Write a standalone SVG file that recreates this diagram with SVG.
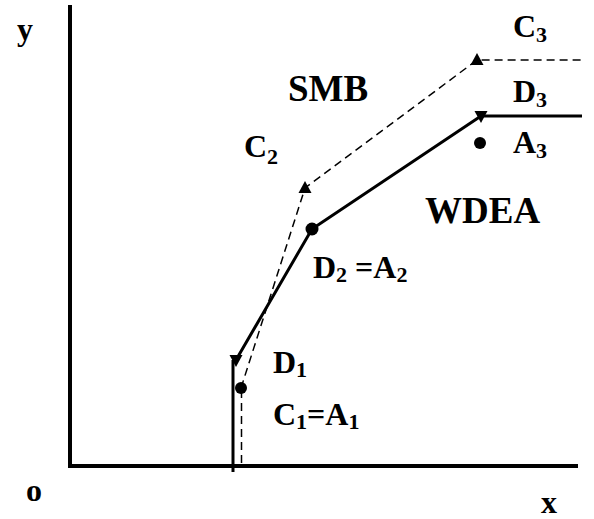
<svg xmlns="http://www.w3.org/2000/svg" width="594" height="519" viewBox="0 0 594 519">
<style>
text{font-family:"Liberation Serif","Times New Roman",serif;font-weight:bold;fill:#000}
.lbl{font-size:32px}
.big{font-size:37px}
.sub{font-size:22px}
.solid{fill:none;stroke:#000;stroke-width:3}
.dash{fill:none;stroke:#000;stroke-width:1.5;stroke-dasharray:8 5}
</style>
<defs>
<path id="up" d="M0,-7 L6.5,5 L-6.5,5 Z" fill="#000"/>
<path id="down" d="M-6.5,-5 L6.5,-5 L0,7 Z" fill="#000"/>
</defs>
<rect width="594" height="519" fill="#fff"/>
<g id="axes">
<polyline points="70,5 70,466 578,466" fill="none" stroke="#000" stroke-width="4"/>
<text x="17" y="40" class="lbl">y</text>
<text x="26" y="501" class="lbl">o</text>
<text x="541" y="513" class="lbl">x</text>
</g>
<g id="connectors">
<line x1="233" y1="360" x2="233" y2="472" class="solid"/>
<line x1="241.5" y1="390" x2="241.5" y2="468" class="dash" stroke-dasharray="6 4"/>
<polyline points="236,360 312,229 481,116 582,116" class="solid"/>
<polyline points="241,388 305,188 477,60 585,60" class="dash"/>
</g>
<g id="D1">
<use href="#down" x="236" y="360"/>
<text x="273" y="373" class="lbl">D<tspan class="sub" dy="4">1</tspan></text>
</g>
<g id="C1A1">
<circle cx="241" cy="388" r="6"/>
<text x="273" y="425" class="lbl">C<tspan class="sub" dy="4">1</tspan><tspan dy="-4">=A</tspan><tspan class="sub" dy="4">1</tspan></text>
</g>
<g id="C2">
<use href="#up" x="305" y="188"/>
<text x="244" y="157" class="lbl">C<tspan class="sub" dy="7">2</tspan></text>
</g>
<g id="D2A2">
<circle cx="312" cy="229" r="6.5"/>
<text x="313" y="278" class="lbl">D<tspan class="sub" dy="4">2</tspan><tspan dy="-4"> =A</tspan><tspan class="sub" dy="4">2</tspan></text>
</g>
<g id="C3">
<use href="#up" x="477" y="60"/>
<text x="513" y="37" class="lbl">C<tspan class="sub" dy="5">3</tspan></text>
</g>
<g id="D3">
<use href="#down" x="481" y="116"/>
<text x="513" y="102" class="lbl">D<tspan class="sub" dy="5">3</tspan></text>
</g>
<g id="A3">
<circle cx="480" cy="143" r="6"/>
<text x="513" y="153" class="lbl">A<tspan class="sub" dy="5">3</tspan></text>
</g>
<g id="SMB"><text x="288" y="101" class="big">SMB</text></g>
<g id="WDEA"><text x="425" y="223" class="big">WDEA</text></g>
</svg>
